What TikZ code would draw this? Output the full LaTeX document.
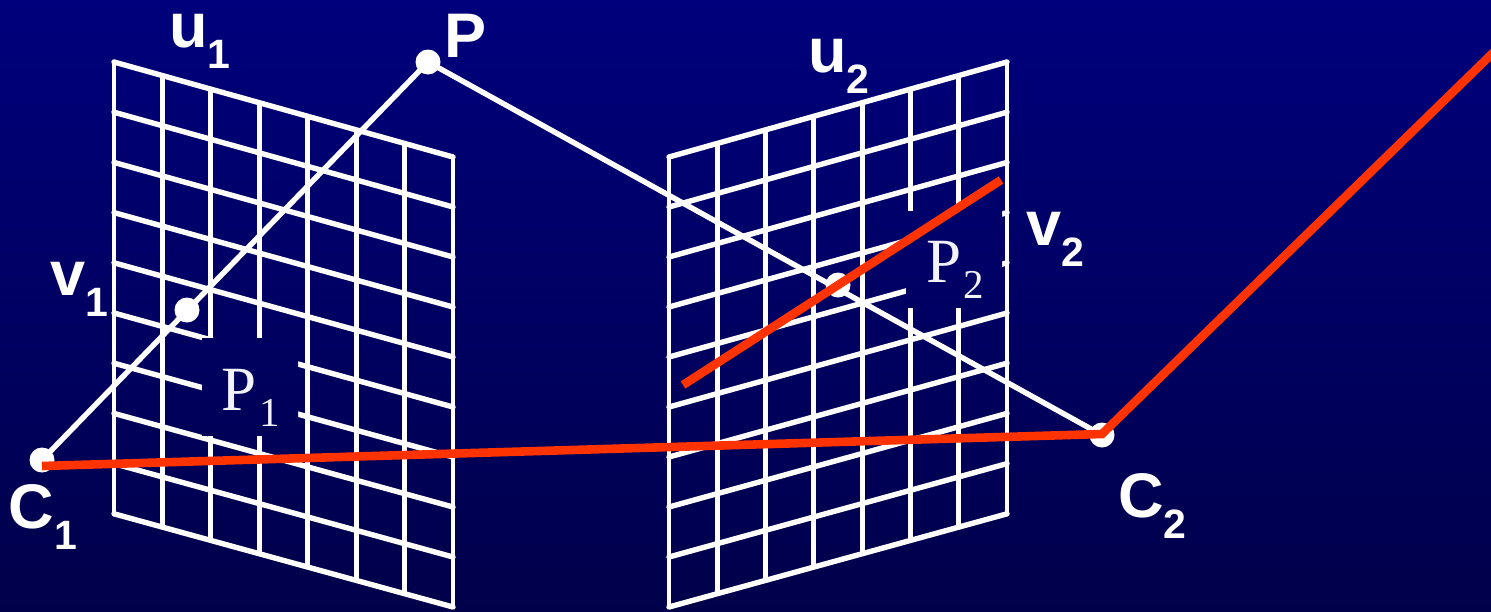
\documentclass[tikz,border=0pt]{standalone}
\usepackage{fontspec}
\setmainfont{Liberation Sans}
\newfontfamily\serifface{Liberation Serif}
\definecolor{bgtop}{HTML}{00007C}
\definecolor{bgbot}{HTML}{00004A}
\definecolor{redline}{HTML}{FF3300}
\definecolor{serifwhite}{HTML}{F2F2FA}
\newcommand{\boldlab}[3]{\fontsize{63}{63}\selectfont\bfseries #1\hspace{#3pt}\raisebox{-21.5pt}{\fontsize{41}{41}\selectfont #2}}
\newcommand{\seriflab}[3]{\serifface\fontsize{63}{63}\selectfont #1\hspace{#3pt}\raisebox{-16pt}{\fontsize{41}{41}\selectfont #2}}
\tikzset{
  gridline/.style={white,line width=5.4pt,line cap=round},
  gridpost/.style={white,line width=4.8pt,line cap=round},
  ray/.style={white,line width=5.4pt},
  redray/.style={redline,line width=8.6pt},
  dot/.style={circle,fill=white,draw=none,minimum size=25pt,inner sep=0pt},
  lab/.style={anchor=base west,inner sep=0pt,outer sep=0pt,text=white},
  slab/.style={anchor=base west,inner sep=0pt,outer sep=0pt,text=serifwhite},
}
\begin{document}
\begin{tikzpicture}[x=1pt,y=-1pt]
\useasboundingbox (0,0) rectangle (1491,611);
\shade[top color=bgtop,bottom color=bgbot,shading angle=0] (0,0) rectangle (1491,611);
% left grid
\foreach \i in {0,...,9}{
  \draw[gridline] ({114},{62+50.2*\i}) -- ({453},{157+50*\i});
}
\foreach \j in {0,...,7}{
  \draw[gridpost] ({114+48.43*\j},{62+95*\j/7}) -- ({114+48.43*\j},{514+92*\j/7});
}
% right grid
\foreach \i in {0,...,9}{
  \draw[gridline] ({669},{157+50*\i}) -- ({1007},{62+50.2*\i});
}
\foreach \j in {0,...,7}{
  \draw[gridpost] ({669+48.29*\j},{157-95*\j/7}) -- ({669+48.29*\j},{606-92*\j/7});
}
% label holes in the grids
\begin{scope}
  \clip (202,338) rectangle (298,435);
  \shade[top color=bgtop,bottom color=bgbot,shading angle=0] (0,0) rectangle (1491,611);
\end{scope}
\begin{scope}
  \clip (906,211) rectangle (1002,307);
  \shade[top color=bgtop,bottom color=bgbot,shading angle=0] (0,0) rectangle (1491,611);
\end{scope}
% points
\node[dot] (P) at (428,62) {};
\node[dot] (C1) at (42,460) {};
\node[dot] (C2) at (1102,435) {};
\node[dot] (p1) at (187,310) {};
\node[dot] (p2) at (838,285) {};
\coordinate (Cr1) at (42,466);
\coordinate (Cr2) at (1102,434);
\coordinate (far) at (1500,46);
\coordinate (ea) at (683,385);
\coordinate (eb) at (1001,180);
% rays
\draw[ray] (C1.center) -- (P.center);
\draw[ray] (P.center) -- (C2.center);
\draw[redray] (Cr1) -- (Cr2) -- (far);
\draw[redray] (ea) -- (eb);
% labels
\node[lab] (lu1) at (169,47) {\boldlab{u}{1}{0}};
\node[lab] (lP) at (444,57) {\fontsize{63}{63}\selectfont\bfseries P};
\node[lab] (lu2) at (808,72) {\boldlab{u}{2}{0}};
\node[lab] (lv1) at (50,295) {\boldlab{v}{1}{0}};
\node[lab] (lv2) at (1026,245) {\boldlab{v}{2}{0}};
\node[lab] (lC1) at (9,528) {\boldlab{C}{1}{0}};
\node[lab] (lC2) at (1118,517) {\boldlab{C}{2}{0}};
\node[slab] (lp1) at (221,410) {\seriflab{P}{1}{3}};
\node[slab] (lp2) at (926,282) {\seriflab{P}{2}{2}};
\end{tikzpicture}
\end{document}
